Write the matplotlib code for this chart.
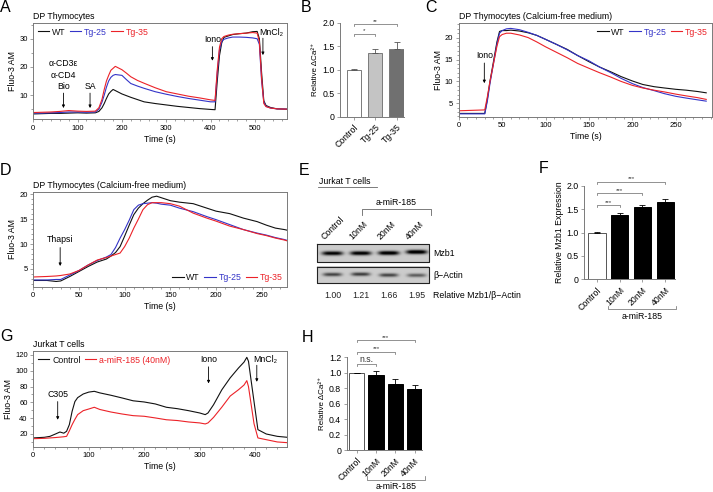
import numpy as np
import matplotlib
matplotlib.use("Agg")
import matplotlib.pyplot as plt
from matplotlib.ticker import MultipleLocator
import matplotlib.transforms as mtransforms

plt.rcParams['font.family'] = ['Liberation Sans', 'DejaVu Sans']
plt.rcParams['axes.linewidth'] = 0.6

# --- colours ---
BLACK = "#111111"
BLUE = "#3434c8"
RED = "#ec2228"
SPINE = "#7a7a7a"
GRAY = "#666666"

# --- Panel A: DP thymocytes, Fluo-3 trace ---
a_time = [0, 20, 40, 60, 80, 100, 120, 140, 148, 155, 160, 165, 170, 175, 180, 185, 190, 200,
          210, 220, 235, 250, 275, 300, 325, 350, 375, 400, 410, 415, 420, 425, 430, 440, 450,
          465, 480, 495, 505, 510, 515, 520, 525, 535, 550, 573]
a_wt = [3.3, 3.4, 3.5, 3.5, 3.6, 3.7, 3.6, 3.7, 4.2, 5.5, 7.0, 8.8, 10.4, 11.3, 12.0, 11.6, 11.2, 10.4,
        9.8, 9.2, 8.4, 7.6, 7.0, 6.5, 6.0, 5.6, 5.2, 4.9, 4.8, 15.0, 24.0, 28.5, 30.5, 31.0, 31.5,
        31.8, 32.0, 32.5, 32.6, 30.0, 18.0, 8.0, 6.3, 5.6, 5.1, 5.0]
a_tg25 = [3.6, 3.6, 3.7, 3.8, 4.0, 4.0, 3.9, 4.0, 5.0, 7.5, 10.0, 12.8, 15.0, 16.3, 17.0, 17.3, 17.2, 17.0,
          15.5, 14.1, 13.2, 12.4, 11.2, 10.3, 9.5, 8.8, 8.2, 7.6, 7.6, 18.0, 26.0, 29.0, 29.8, 30.3, 30.6,
          30.6, 30.5, 30.3, 30.0, 28.0, 15.0, 7.5, 6.0, 5.4, 5.1, 5.0]
a_tg35 = [3.8, 3.9, 4.0, 4.2, 4.5, 4.3, 4.2, 4.3, 5.5, 8.5, 12.0, 15.0, 17.0, 18.8, 19.5, 20.2, 19.8, 19.0,
          17.8, 16.5, 15.2, 14.2, 12.6, 11.2, 10.4, 9.6, 9.0, 8.3, 8.1, 19.0, 27.0, 30.0, 30.8, 31.3, 31.6,
          31.8, 32.0, 32.2, 32.0, 29.0, 16.0, 7.0, 5.9, 5.4, 5.1, 5.0]

# --- Panel B: relative delta Ca ---
b_cats = ["Control", "Tg-25", "Tg-35"]
b_vals = [1.0, 1.35, 1.45]
b_err = [0.015, 0.10, 0.13]
b_colors = ["white", "#c4c4c4", "#707070"]

# --- Panel C: calcium-free, ionomycin ---
c_time = [0, 15, 30, 33, 36, 40, 44, 47, 50, 55, 60, 70, 80, 90, 100, 112, 125, 137, 150, 162,
          175, 187, 200, 212, 225, 237, 250, 262, 275, 285]
c_wt = [2.7, 2.7, 2.7, 6.0, 10.0, 14.5, 19.0, 21.4, 21.6, 21.6, 21.7, 21.5, 21.1, 20.5, 19.6, 18.5,
        17.3, 15.9, 14.5, 13.3, 12.2, 11.1, 10.1, 9.3, 8.8, 8.5, 8.2, 8.0, 7.7, 7.4]
c_tg25 = [2.6, 2.6, 2.6, 5.5, 9.5, 14.0, 18.5, 21.0, 21.6, 22.0, 22.1, 21.8, 21.2, 20.5, 19.6, 18.5,
          17.2, 15.9, 14.7, 13.3, 12.0, 10.7, 9.5, 8.6, 7.9, 7.2, 6.6, 6.2, 5.8, 5.5]
c_tg35 = [3.3, 3.4, 3.5, 6.5, 10.0, 14.0, 18.0, 20.2, 20.7, 21.0, 21.0, 20.6, 20.0, 19.0, 17.9, 16.7,
          15.4, 14.1, 13.0, 12.0, 11.0, 10.0, 9.1, 8.5, 8.0, 7.6, 7.1, 6.7, 6.3, 5.9]

# --- Panel D: calcium-free, thapsigargin ---
d_time = [0, 15, 25, 30, 40, 50, 60, 70, 80, 85, 90, 95, 100, 105, 110, 115, 120, 125, 130, 135,
          140, 150, 160, 175, 190, 200, 215, 230, 245, 255, 265, 275, 282]
d_wt = [2.7, 2.7, 2.5, 2.6, 3.5, 4.5, 5.5, 6.4, 7.0, 7.6, 8.3, 9.5, 11.6, 13.8, 15.9, 17.2, 18.1, 18.8,
        19.4, 19.6, 19.3, 18.7, 18.4, 18.1, 17.2, 16.6, 16.1, 15.2, 14.5, 13.8, 13.2, 12.9, 12.6]
d_tg25 = [2.8, 2.8, 2.9, 2.9, 3.8, 4.7, 5.8, 6.7, 7.4, 7.9, 9.3, 11.2, 12.9, 14.8, 16.9, 17.8, 18.1, 18.2,
          18.3, 18.2, 18.0, 17.8, 17.2, 16.5, 15.5, 14.9, 13.9, 12.9, 12.2, 11.8, 11.3, 10.9, 10.5]
d_tg35 = [3.4, 3.5, 3.6, 3.7, 4.0, 4.7, 5.8, 6.8, 7.3, 7.6, 7.9, 8.2, 9.5, 11.2, 13.2, 15.0, 16.9, 17.9,
          18.3, 18.3, 18.3, 18.1, 17.6, 16.2, 15.2, 14.6, 13.6, 12.9, 12.1, 11.7, 11.2, 10.8, 10.4]

# --- Panel E: western blot ---
e_lanes = ["Control", "10nM", "20nM", "40nM"]
e_mzb1 = [0.85, 0.88, 0.92, 0.95]
e_actin = [0.55, 0.58, 0.55, 0.45]
e_ratio = [1.00, 1.21, 1.66, 1.95]

# --- Panel F: relative Mzb1 expression ---
f_cats = ["Control", "10nM", "20nM", "40nM"]
f_vals = [1.0, 1.38, 1.54, 1.66]
f_err = [0.01, 0.04, 0.05, 0.06]

# --- Panel G: Jurkat T cells ---
g_time = [0, 20, 30, 40, 48, 55, 60, 65, 70, 75, 80, 90, 100, 110, 120, 140, 160, 180, 200, 220,
          240, 260, 280, 300, 310, 315, 325, 340, 355, 370, 380, 385, 388, 398, 405, 420, 440, 458]
g_ctrl = [15, 15.8, 17, 20, 22.5, 21, 23.4, 31.8, 48.7, 61, 66, 70.6, 73, 74, 72, 69, 65.6, 62, 60.5, 58,
          53.8, 52, 49.5, 46.6, 44.5, 46.6, 57, 76, 91, 103.5, 111, 117, 112, 61, 25.5, 20, 17, 15.8]
g_mir = [14, 14.5, 15, 15.5, 16, 16.5, 17, 24, 31.8, 38.5, 44.5, 49.5, 51.6, 53.8, 51, 47.8, 45.3, 43.2,
         42.4, 40.3, 38, 37, 35.2, 34, 32.7, 34, 41, 54, 68, 76, 82, 87.5, 80, 33, 15, 12.8, 9.9, 9]

# --- Panel H: relative delta Ca, Jurkat ---
h_cats = ["Control", "10nM", "20nM", "40nM"]
h_vals = [1.0, 0.97, 0.855, 0.795]
h_err = [0.003, 0.05, 0.06, 0.05]

W, H = 713, 492
fig = plt.figure(figsize=(W / 100, H / 100), dpi=100)


def px_axes(l, t, r, b):
    return fig.add_axes([l / W, 1 - b / H, (r - l) / W, (b - t) / H])


def style_trace(ax, xlim, ylim, xmaj, xmin, ymaj, ymin, title):
    ax.set_xlim(*xlim)
    ax.set_ylim(*ylim)
    ax.xaxis.set_major_locator(MultipleLocator(xmaj))
    ax.xaxis.set_minor_locator(MultipleLocator(xmin))
    ax.yaxis.set_major_locator(MultipleLocator(ymaj))
    ax.yaxis.set_minor_locator(MultipleLocator(ymin))
    for s in ax.spines.values():
        s.set_color(SPINE)
        s.set_linewidth(0.7)
    ax.tick_params(which='both', direction='out', color=SPINE, width=0.5, labelsize=5.5, pad=1.5)
    ax.tick_params(which='major', length=2.5)
    ax.tick_params(which='minor', length=1.3)
    ax.set_xlabel("Time (s)", fontsize=6.3, labelpad=2)
    ax.set_ylabel("Fluo-3 AM", fontsize=6.3, labelpad=1.5)
    ax.set_title(title, loc='left', fontsize=6.3, pad=2.5)


def trace_legend(ax, lines, labels, colors, **kw):
    leg = ax.legend(lines, labels, ncol=len(labels), frameon=False, fontsize=6.3,
                    handlelength=1.3, handletextpad=0.3, columnspacing=0.5,
                    borderaxespad=0.15, **kw)
    for txt, c in zip(leg.get_texts(), colors):
        txt.set_color(c)


def arrow(ax, x, y0, y1, label=None, label_y=None, ha='center'):
    ax.annotate('', xy=(x, y1), xytext=(x, y0),
                arrowprops=dict(arrowstyle='-|>', lw=0.6, color='k', mutation_scale=4,
                                shrinkA=0, shrinkB=0))
    if label is not None:
        ax.text(x, label_y, label, ha=ha, va='bottom', fontsize=6.3, linespacing=1.4)


def style_bar(ax, cats, xlim, ylim, yticks, yticklabels, ylabel):
    ax.set_xlim(*xlim)
    ax.set_ylim(*ylim)
    ax.spines[['top', 'right']].set_visible(False)
    for s in ('left', 'bottom'):
        ax.spines[s].set_color(SPINE)
        ax.spines[s].set_linewidth(0.7)
    ax.set_yticks(yticks)
    ax.set_yticklabels(yticklabels)
    ax.set_xticks(range(len(cats)))
    ax.set_xticklabels(cats, rotation=45, ha='right', rotation_mode='anchor')
    ax.tick_params(direction='out', color=SPINE, width=0.5, length=2.5, labelsize=6.3, pad=1.5)
    ax.tick_params(axis='x', pad=2)
    ax.set_ylabel(ylabel, fontsize=6.3, labelpad=2)


def sig_bracket(ax, x0, x1, y, label, fs=4.5):
    lo, hi = ax.get_ylim()
    drop = 0.022 * (hi - lo)
    ax.plot([x0, x0, x1, x1], [y - drop, y, y, y - drop], color=GRAY, lw=0.5, clip_on=False)
    ax.text((x0 + x1) / 2, y + 0.2 * drop, label, ha='center', va='bottom', fontsize=fs,
            color='#333333', clip_on=False)


def under_bracket(ax, x0, x1, y, label):
    tr = mtransforms.blended_transform_factory(ax.transData, ax.transAxes)
    ax.plot([x0, x0, x1, x1], [y + 0.04, y, y, y + 0.04], color=GRAY, lw=0.5,
            transform=tr, clip_on=False)
    ax.text((x0 + x1) / 2, y - 0.03, label, ha='center', va='top', fontsize=6.3,
            transform=tr, clip_on=False)


# ---------------- A ----------------
axA = px_axes(33.3, 22.7, 287.3, 119.3)
lA = [axA.plot(a_time, v, color=c, lw=0.8)[0] for v, c in
      zip([a_wt, a_tg25, a_tg35], [BLACK, BLUE, RED])]
style_trace(axA, (0, 573), (1.4, 35.7), 100, 20, 10, 5, "DP Thymocytes")
trace_legend(axA, lA, ["WT", "Tg-25", "Tg-35"], [BLACK, BLUE, RED], loc='upper left')
arrow(axA, 68, 10.7, 5.4, "α-CD3ε\nα-CD4\nBio", 11.3)
arrow(axA, 128, 10.7, 5.4, "SA", 11.3)
arrow(axA, 404, 27.2, 22.2, "Iono", 28.0)
arrow(axA, 518, 30.2, 24.2)
axA.text(509, 30.6, "MnCl₂", fontsize=6.3, va='bottom', ha='left')

# ---------------- B ----------------
axB = px_axes(340, 22.7, 404.3, 116.7)
xb = np.arange(len(b_cats))
axB.bar(xb, b_vals, width=0.67, color=b_colors, edgecolor=SPINE, lw=0.7)
axB.errorbar(xb, b_vals, yerr=[np.zeros(len(b_err)), b_err], fmt='none', ecolor='#555555',
             elinewidth=0.6, capsize=2.2, capthick=0.6)
style_bar(axB, b_cats, (-0.645, 2.36), (0, 2.0), [0, 0.5, 1.0, 1.5, 2.0],
          ["0", "0.5", "1.0", "1.5", "2.0"], "Relative ΔCa²⁺")
axB.yaxis.label.set_size(5.8)
sig_bracket(axB, 0, 1, 1.77, "*")
sig_bracket(axB, 0, 2, 1.97, "**")

# ---------------- C ----------------
axC = px_axes(458.7, 22.7, 712.3, 116.7)
lC = [axC.plot(c_time, v, color=c, lw=0.8)[0] for v, c in
      zip([c_wt, c_tg25, c_tg35], [BLACK, BLUE, RED])]
style_trace(axC, (0, 292), (1.95, 23.4), 50, 10, 5, 1, "DP Thymocytes (Calcium-free medium)")
trace_legend(axC, lC, ["WT", "Tg-25", "Tg-35"], [BLACK, BLUE, RED], loc='upper right')
arrow(axC, 29.5, 14.2, 9.6, "Iono", 14.8)

# ---------------- D ----------------
axD = px_axes(33.3, 191.7, 287.3, 286.7)
lD = [axD.plot(d_time, v, color=c, lw=0.8)[0] for v, c in
      zip([d_wt, d_tg25, d_tg35], [BLACK, BLUE, RED])]
style_trace(axD, (0, 278), (1.45, 20.5), 50, 10, 5, 1, "DP Thymocytes (Calcium-free medium)")
trace_legend(axD, lD, ["WT", "Tg-25", "Tg-35"], [BLACK, BLUE, RED], loc='lower right')
arrow(axD, 29.4, 9.3, 5.6, "Thapsi", 10.0)

# ---------------- G ----------------
axG = px_axes(33.3, 350.7, 287.3, 446.7)
lG = [axG.plot(g_time, v, color=c, lw=0.8)[0] for v, c in
      zip([g_ctrl, g_mir], [BLACK, RED])]
style_trace(axG, (0, 458), (3.9, 125.4), 100, 20, 20, 10, "Jurkat T cells")
trace_legend(axG, lG, ["Control", "a-miR-185 (40nM)"], [BLACK, RED], loc='upper left')
arrow(axG, 44, 61, 38, "C305", 64)
arrow(axG, 316, 105, 84, "Iono", 108)
arrow(axG, 403, 107, 86)
axG.text(397, 108, "MnCl₂", fontsize=6.3, va='bottom', ha='left')

# ---------------- F ----------------
axF = px_axes(584.3, 185.7, 675, 279.3)
xf = np.arange(len(f_cats))
axF.bar(xf, f_vals, width=0.75, color=["white", "black", "black", "black"],
        edgecolor=["#555555", "black", "black", "black"], lw=0.7)
axF.errorbar(xf, f_vals, yerr=[np.zeros(len(f_err)), f_err], fmt='none', ecolor='black',
             elinewidth=0.6, capsize=2.2, capthick=0.6)
style_bar(axF, f_cats, (-0.56, 3.44), (0, 2.0), [0, 0.5, 1.0, 1.5, 2.0],
          ["0", "0.5", "1.0", "1.5", "2.0"], "Relative Mzb1 Expression")
sig_bracket(axF, 0, 1, 1.58, "***")
sig_bracket(axF, 0, 2, 1.84, "***")
sig_bracket(axF, 0, 3, 2.08, "***")
under_bracket(axF, 0.5, 3.5, -0.32, "a-miR-185")

# ---------------- H ----------------
axH = px_axes(346.7, 357.3, 422.3, 450)
xh = np.arange(len(h_cats))
axH.bar(xh, h_vals, width=0.8, color=["white", "black", "black", "black"],
        edgecolor=["#555555", "black", "black", "black"], lw=0.7)
axH.errorbar(xh, h_vals, yerr=[np.zeros(len(h_err)), h_err], fmt='none', ecolor='black',
             elinewidth=0.6, capsize=2.2, capthick=0.6)
style_bar(axH, h_cats, (-0.52, 3.4), (0, 1.2), [0, 0.2, 0.4, 0.6, 0.8, 1.0, 1.2],
          ["0", "0.2", "0.4", "0.6", "0.8", "1.0", "1.2"], "Relative ΔCa²⁺")
axH.yaxis.label.set_size(5.8)
sig_bracket(axH, 0, 1, 1.11, "n.s.", fs=6.3)
sig_bracket(axH, 0, 2, 1.27, "***")
sig_bracket(axH, 0, 3, 1.42, "***")
under_bracket(axH, 0.55, 3.55, -0.32, "a-miR-185")

# ---------------- overlay: letters and blot (pixel coordinates) ----------------
ov = fig.add_axes([0, 0, 1, 1])
ov.set_xlim(0, W)
ov.set_ylim(H, 0)
ov.axis('off')
ov.patch.set_alpha(0)

for letter, (x, y) in zip("ABCDEFGH", [(0, 0), (301, 0), (425, 0), (0, 163), (299, 163),
                                       (539, 161), (0, 329), (302, 330)]):
    ov.text(x, y, letter, fontsize=11.5, ha='left', va='top')

# E: title with underline
ov.text(319, 181, "Jurkat T cells", fontsize=6.3, va='center', ha='left')
ov.plot([318, 377], [187, 187], color=GRAY, lw=0.6)
# bracket over treated lanes
ov.plot([361.7, 361.7, 430.7, 430.7], [215, 209, 209, 215], color=GRAY, lw=0.6)
ov.text(396, 207, "a-miR-185", fontsize=6.3, ha='center', va='bottom')

lane_x = [332.7, 361.0, 389.0, 417.0]
for lx, name in zip(lane_x, e_lanes):
    ov.text(lx - 7, 241, name, fontsize=6.3, rotation=45, rotation_mode='anchor',
            ha='left', va='bottom')


def blot(y0, y1, strengths, band_h, band_w, y_shift=None):
    x0, x1 = 317.3, 429.3
    nx, ny = int((x1 - x0) * 4), int((y1 - y0) * 4)
    xs = np.linspace(x0, x1, nx)
    ys = np.linspace(y0, y1, ny)
    X, Y = np.meshgrid(xs, ys)
    img = np.full_like(X, 0.80)
    yc = (y0 + y1) / 2
    for i, (lx, s) in enumerate(zip(lane_x, strengths)):
        dy = 0 if y_shift is None else y_shift[i]
        img -= s * np.exp(-((X - lx) / band_w) ** 4) * np.exp(-((Y - yc - dy) / band_h) ** 2)
    ov.imshow(img, cmap='gray', vmin=0, vmax=1, extent=(x0, x1, y1, y0), aspect='auto',
              interpolation='bilinear', zorder=1)
    ov.plot([x0, x1, x1, x0, x0], [y0, y0, y1, y1, y0], color='#222222', lw=0.8, zorder=2)


blot(244.3, 261.7, e_mzb1, 2.0, 10.5, y_shift=[0.3, 0.2, 0, -1.0])
blot(266.7, 283.3, e_actin, 1.8, 9.5, y_shift=[0, -0.3, 0.6, 0.8])
ov.set_xlim(0, W)
ov.set_ylim(H, 0)
ov.text(433, 253, "Mzb1", fontsize=6.3, va='center', ha='left')
ov.text(433, 275, "β−Actin", fontsize=6.3, va='center', ha='left')
for lx, r in zip(lane_x, e_ratio):
    ov.text(lx, 295, f"{r:.2f}", fontsize=6.3, ha='center', va='center', color='#222222')
ov.text(433, 295, "Relative Mzb1/β−Actin", fontsize=6.3, ha='left', va='center')

fig.savefig("out.png", dpi=100)
